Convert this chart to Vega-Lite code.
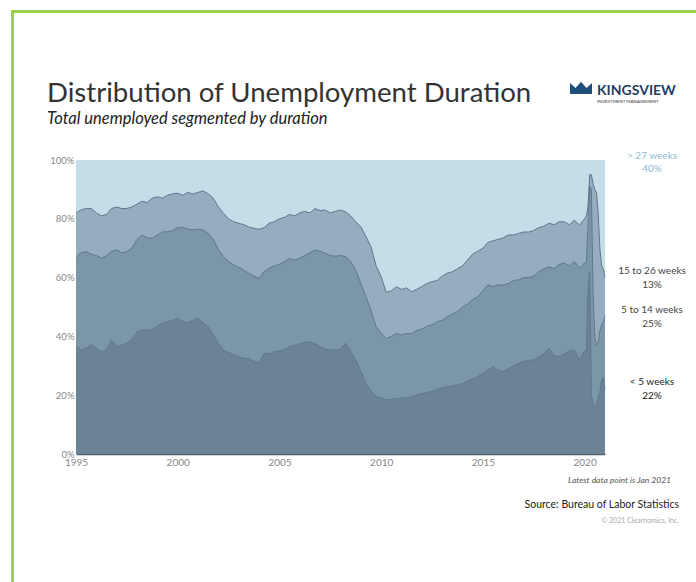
{
  "$schema": "https://vega.github.io/schema/vega-lite/v6.json",
  "autosize": "none",
  "width": 529,
  "height": 294,
  "padding": {"left": 76, "top": 160, "right": 91, "bottom": 128},
  "background": "white",
  "config": {"view": {"stroke": null}, "font": "Lato"},
  "datasets": {
    "u": [
      {"d":"1995-01","a":36.5,"b":67,"c":82},{"d":"1995-04","a":35.4,"b":68.5,"c":83},{"d":"1995-07","a":36,"b":68.8,"c":83.5},{"d":"1995-10","a":37.1,"b":68,"c":83.5},
      {"d":"1996-01","a":36,"b":67.5,"c":82},{"d":"1996-04","a":34.8,"b":66.6,"c":81},{"d":"1996-07","a":35.5,"b":67.5,"c":81.5},{"d":"1996-10","a":38.8,"b":69,"c":83.5},
      {"d":"1997-01","a":36.5,"b":69.4,"c":84},{"d":"1997-04","a":37,"b":68.5,"c":83.5},{"d":"1997-07","a":37.7,"b":68.8,"c":83.5},{"d":"1997-10","a":39,"b":70,"c":84},
      {"d":"1998-01","a":41.5,"b":73,"c":85},{"d":"1998-04","a":42.2,"b":74.5,"c":86},{"d":"1998-07","a":42,"b":73.5,"c":85.5},{"d":"1998-10","a":42.2,"b":73.4,"c":87},
      {"d":"1999-01","a":43.5,"b":74.5,"c":87.5},{"d":"1999-04","a":44.5,"b":75.5,"c":87},{"d":"1999-07","a":45,"b":75.6,"c":88},{"d":"1999-10","a":45.5,"b":76,"c":88.5},
      {"d":"2000-01","a":46.2,"b":77,"c":88.7},{"d":"2000-04","a":45,"b":77.1,"c":88},{"d":"2000-07","a":44.5,"b":76.5,"c":89},{"d":"2000-10","a":45.5,"b":76.2,"c":88.4},
      {"d":"2001-01","a":46.2,"b":76.5,"c":89},{"d":"2001-04","a":44.5,"b":76.2,"c":89.5},{"d":"2001-07","a":43.3,"b":75,"c":88.5},{"d":"2001-10","a":40.5,"b":73,"c":87},
      {"d":"2002-01","a":37.5,"b":69.5,"c":84},{"d":"2002-04","a":35.4,"b":67.1,"c":81.9},{"d":"2002-07","a":34.5,"b":65.5,"c":80},{"d":"2002-10","a":33.7,"b":64.3,"c":79},
      {"d":"2003-01","a":33,"b":63.5,"c":78.5},{"d":"2003-04","a":32.6,"b":62.5,"c":78},{"d":"2003-07","a":32.5,"b":61.5,"c":77.2},{"d":"2003-10","a":31.5,"b":60.5,"c":76.8},
      {"d":"2004-01","a":31,"b":59.8,"c":76.4},{"d":"2004-04","a":34.2,"b":62,"c":77},{"d":"2004-07","a":34,"b":63.2,"c":78.5},{"d":"2004-10","a":34.8,"b":64,"c":79},
      {"d":"2005-01","a":35,"b":64.5,"c":80},{"d":"2005-04","a":35.5,"b":65.5,"c":80.5},{"d":"2005-07","a":36.5,"b":66.5,"c":81.5},{"d":"2005-10","a":37,"b":66,"c":81},
      {"d":"2006-01","a":37.5,"b":66.6,"c":82},{"d":"2006-04","a":38,"b":67.5,"c":82.5},{"d":"2006-07","a":38.2,"b":68.5,"c":82},{"d":"2006-10","a":37.5,"b":69.4,"c":83.5},
      {"d":"2007-01","a":36.5,"b":69,"c":82.8},{"d":"2007-04","a":35.6,"b":68.3,"c":83},{"d":"2007-07","a":35.4,"b":67.5,"c":82},{"d":"2007-10","a":35.4,"b":67.3,"c":82.5},
      {"d":"2008-01","a":35.5,"b":67.5,"c":83},{"d":"2008-04","a":37.7,"b":67.1,"c":82.4},{"d":"2008-07","a":35,"b":65.5,"c":81},{"d":"2008-10","a":32,"b":62.6,"c":79},
      {"d":"2009-01","a":28,"b":58,"c":77.3},{"d":"2009-04","a":24,"b":53.5,"c":74},{"d":"2009-07","a":21.5,"b":49,"c":70.5},{"d":"2009-10","a":19.5,"b":43.3,"c":64},
      {"d":"2010-01","a":19,"b":41,"c":60.3},{"d":"2010-04","a":18.4,"b":39.3,"c":55},{"d":"2010-07","a":18.6,"b":40,"c":55.5},{"d":"2010-10","a":18.9,"b":41,"c":56.9},
      {"d":"2011-01","a":19,"b":40.5,"c":56},{"d":"2011-04","a":19.2,"b":41,"c":56.5},{"d":"2011-07","a":19.5,"b":41,"c":55.2},{"d":"2011-10","a":20,"b":42,"c":56},
      {"d":"2012-01","a":20.5,"b":42.5,"c":57},{"d":"2012-04","a":21,"b":43.5,"c":58},{"d":"2012-07","a":21.2,"b":43.9,"c":58.6},{"d":"2012-10","a":22,"b":45,"c":59},
      {"d":"2013-01","a":22.5,"b":45.5,"c":60.5},{"d":"2013-04","a":22.9,"b":46.7,"c":61.5},{"d":"2013-07","a":23.2,"b":47.5,"c":62},{"d":"2013-10","a":23.5,"b":48.5,"c":63},
      {"d":"2014-01","a":24,"b":50,"c":64},{"d":"2014-04","a":24.8,"b":51,"c":66},{"d":"2014-07","a":25.5,"b":52.5,"c":68},{"d":"2014-10","a":26.3,"b":53.5,"c":69},
      {"d":"2015-01","a":27.5,"b":55.5,"c":70},{"d":"2015-04","a":28.5,"b":57.5,"c":72},{"d":"2015-07","a":29.7,"b":57,"c":72.5},{"d":"2015-10","a":28.5,"b":57.5,"c":73},
      {"d":"2016-01","a":28,"b":57.5,"c":73.5},{"d":"2016-04","a":29,"b":58,"c":74.5},{"d":"2016-07","a":30,"b":59,"c":74.5},{"d":"2016-10","a":30.8,"b":59.2,"c":75},
      {"d":"2017-01","a":31.5,"b":60,"c":75.5},{"d":"2017-04","a":31.8,"b":60,"c":75.5},{"d":"2017-07","a":32,"b":60.5,"c":76},{"d":"2017-10","a":33,"b":62,"c":77},
      {"d":"2018-01","a":34,"b":63,"c":77.5},{"d":"2018-04","a":36,"b":63.7,"c":78.5},{"d":"2018-07","a":33.5,"b":63,"c":78},{"d":"2018-10","a":33.1,"b":64.5,"c":79},
      {"d":"2019-01","a":34,"b":64.9,"c":79},{"d":"2019-04","a":35,"b":64,"c":78},{"d":"2019-07","a":35.4,"b":65.5,"c":79.5},{"d":"2019-10","a":32,"b":63.2,"c":77.9},
      {"d":"2020-01","a":35,"b":65,"c":80},{"d":"2020-02","a":35,"b":65,"c":81},{"d":"2020-03","a":55,"b":77,"c":84},{"d":"2020-04","a":62,"b":91,"c":95},
      {"d":"2020-05","a":20,"b":90,"c":95},{"d":"2020-06","a":17,"b":55,"c":92},{"d":"2020-07","a":16,"b":40,"c":90},{"d":"2020-08","a":17,"b":37,"c":89},
      {"d":"2020-09","a":19,"b":38,"c":82},{"d":"2020-10","a":21,"b":42,"c":70},{"d":"2020-11","a":25,"b":44,"c":64},{"d":"2020-12","a":26,"b":45,"c":63},
      {"d":"2021-01","a":22,"b":47,"c":60}
    ],
    "one": [{}]
  },
  "layer": [
    {"data": {"name": "one"}, "mark": {"type": "rect", "x": 0, "y": 0, "x2": 529, "y2": 294, "fill": "#c3dde9", "opacity": 1}},
    {
      "data": {"name": "u", "format": {"parse": {"d": "date:'%Y-%m'"}}},
      "encoding": {
        "x": {"field": "d", "type": "temporal",
          "scale": {"domain": [{"year": 1995, "month": 1, "date": 1}, {"year": 2021, "month": 1, "date": 1}]},
          "axis": {"title": null, "format": "%Y", "grid": false, "ticks": false,
            "values": [{"year":1995},{"year":2000},{"year":2005},{"year":2010},{"year":2015},{"year":2020}],
            "labelColor": "#888888", "labelFontSize": 10, "labelPadding": 3, "labelFlush": false,
            "domainColor": "#4f5f6c", "domainWidth": 1.5}}
      },
      "layer": [
        {"mark": {"type": "area", "color": "#94adbf", "opacity": 1, "line": {"color": "#5f788b", "strokeWidth": 1}},
         "encoding": {"y": {"field": "c", "type": "quantitative", "scale": {"domain": [0, 100]},
           "axis": {"title": null, "values": [0,20,40,60,80,100], "labelExpr": "datum.value + '%'", "grid": false, "ticks": false, "domain": false,
             "labelColor": "#888888", "labelFontSize": 9.5, "labelPadding": 2}}}},
        {"mark": {"type": "area", "color": "#7b96a9", "opacity": 1, "line": {"color": "#5f788b", "strokeWidth": 1}},
         "encoding": {"y": {"field": "b", "type": "quantitative"}}},
        {"mark": {"type": "area", "color": "#6a8396", "opacity": 1, "line": {"color": "#5f788b", "strokeWidth": 1}},
         "encoding": {"y": {"field": "a", "type": "quantitative"}}}
      ]
    },
    {"data": {"name": "one"}, "mark": {"type": "rule", "x": 0, "x2": 529, "y": 0, "color": "#9fc6da", "strokeWidth": 1.5}, "encoding": {}},
    {"data": {"name": "one"}, "mark": {"type": "rule", "x": 529, "x2": 545, "y": 294, "color": "#4f5f6c", "strokeWidth": 1.5}, "encoding": {}},
    {"data": {"name": "one"}, "mark": {"type": "rect", "x": -63.5, "y": -148.5, "x2": 640, "y2": 440, "fill": null, "stroke": "#9bd14f", "strokeWidth": 3}},
    {"data": {"name": "one"}, "mark": {"type": "text", "x": -29, "y": -58, "baseline": "alphabetic", "align": "left", "text": "Distribution of Unemployment Duration", "fontSize": 27.6, "color": "#333333"}},
    {"data": {"name": "one"}, "mark": {"type": "text", "x": -29, "y": -36, "baseline": "alphabetic", "align": "left", "text": "Total unemployed segmented by duration", "fontSize": 16.5, "fontStyle": "italic", "color": "#222222"}},
    {"data": {"name": "one"}, "mark": {"type": "point", "x": 505, "y": -71, "shape": "M-1,0.45L-1,-0.55L-0.5,-0.1L0,-0.65L0.5,-0.1L1,-0.55L1,0.45Z", "size": 484, "filled": true, "color": "#1f4e79", "opacity": 1}},
    {"data": {"name": "one"}, "mark": {"type": "text", "x": 521, "y": -65, "baseline": "alphabetic", "align": "left", "text": "KINGSVIEW", "fontSize": 14, "fontWeight": "bold", "color": "#1f3f66"}},
    {"data": {"name": "one"}, "mark": {"type": "text", "x": 521, "y": -57, "baseline": "alphabetic", "align": "left", "text": "INVESTMENT MANAGEMENT", "fontSize": 4.5, "color": "#333333"}},
    {"data": {"name": "one"}, "mark": {"type": "text", "x": 576, "y": -4, "align": "center", "baseline": "middle", "text": "> 27 weeks", "fontSize": 10, "color": "#8fbad3"}},
    {"data": {"name": "one"}, "mark": {"type": "text", "x": 576, "y": 9, "align": "center", "baseline": "middle", "text": "40%", "fontSize": 10, "color": "#8fbad3"}},
    {"data": {"name": "one"}, "mark": {"type": "text", "x": 576, "y": 111, "align": "center", "baseline": "middle", "text": "15 to 26 weeks", "fontSize": 10, "color": "#444444"}},
    {"data": {"name": "one"}, "mark": {"type": "text", "x": 576, "y": 125, "align": "center", "baseline": "middle", "text": "13%", "fontSize": 10, "color": "#444444"}},
    {"data": {"name": "one"}, "mark": {"type": "text", "x": 576, "y": 150, "align": "center", "baseline": "middle", "text": "5 to 14 weeks", "fontSize": 10, "color": "#444444"}},
    {"data": {"name": "one"}, "mark": {"type": "text", "x": 576, "y": 164, "align": "center", "baseline": "middle", "text": "25%", "fontSize": 10, "color": "#444444"}},
    {"data": {"name": "one"}, "mark": {"type": "text", "x": 576, "y": 222, "align": "center", "baseline": "middle", "text": "< 5 weeks", "fontSize": 10, "color": "#222222"}},
    {"data": {"name": "one"}, "mark": {"type": "text", "x": 576, "y": 236, "align": "center", "baseline": "middle", "text": "22%", "fontSize": 10, "color": "#222222"}},
    {"data": {"name": "one"}, "mark": {"type": "text", "x": 595, "y": 320, "align": "right", "baseline": "middle", "text": "Latest data point is Jan 2021", "fontSize": 8.5, "fontStyle": "italic", "color": "#555555"}},
    {"data": {"name": "one"}, "mark": {"type": "text", "x": 603, "y": 345, "align": "right", "baseline": "middle", "text": "Source: Bureau of Labor Statistics", "fontSize": 10.5, "color": "#222222"}},
    {"data": {"name": "one"}, "mark": {"type": "text", "x": 603, "y": 361, "align": "right", "baseline": "middle", "text": "© 2021 Clearnomics, Inc.", "fontSize": 7, "color": "#aaaaaa"}}
  ]
}
